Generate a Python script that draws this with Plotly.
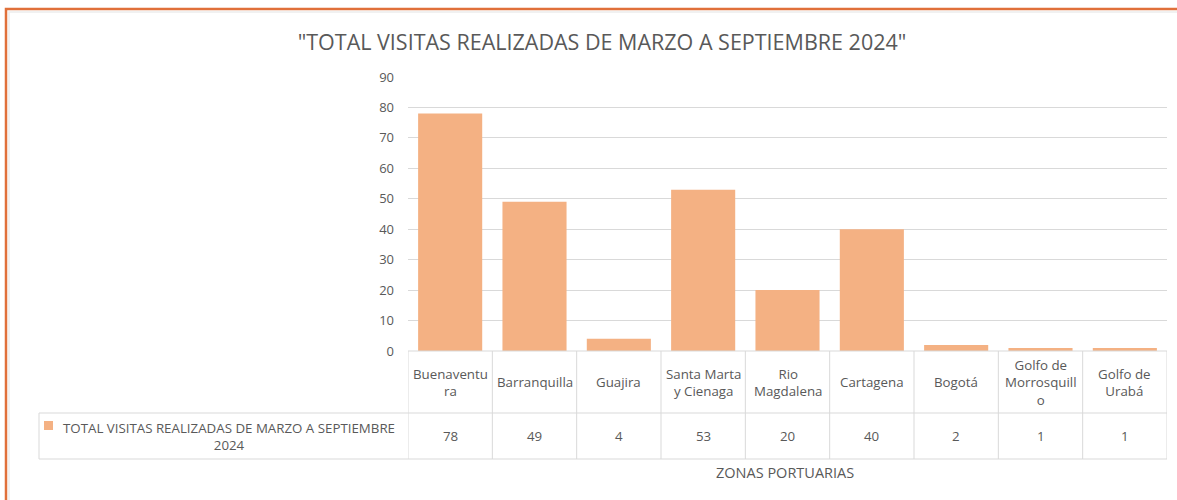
import plotly.graph_objects as go

# datos del grafico
zonas = ["Buenaventura", "Barranquilla", "Guajira", "Santa Marta y Cienaga", "Rio Magdalena",
         "Cartagena", "Bogotá", "Golfo de Morrosquillo", "Golfo de Urabá"]
etiquetas = ["Buenaventu<br>ra", "Barranquilla", "Guajira", "Santa Marta<br>y Cienaga", "Rio<br>Magdalena",
             "Cartagena", "Bogotá", "Golfo de<br>Morrosquill<br>o", "Golfo de<br>Urabá"]
visitas = [78, 49, 4, 53, 20, 40, 2, 1, 1]
serie = "TOTAL VISITAS REALIZADAS DE MARZO A SEPTIEMBRE 2024"
titulo = '"TOTAL VISITAS REALIZADAS DE MARZO A SEPTIEMBRE 2024"'
eje_x = "ZONAS PORTUARIAS"

W, H = 1177, 500
ML, MR, MT, MB = 408, 10, 77, 149
PW, PH = W - ML - MR, H - MT - MB
GRIS = "#D9D9D9"
TXT = "#595959"
FUENTE = "Open Sans"
NARANJA = "#F4B183"
FS = 13.3


def px_x(p):
    return (p - ML) / PW


def px_y(p):
    return (H - MB - p) / PH


fig = go.Figure(go.Bar(x=list(range(len(zonas))), y=visitas, marker_color=NARANJA,
                       marker_line_width=0, name=serie, hovertext=zonas))

shapes = []
annotations = []

# filas de la tabla de datos
y_top, y_mid, y_bot = px_y(351), px_y(413), px_y(459)
for y in (y_mid, y_bot):
    shapes.append(dict(type="line", xref="paper", yref="paper", x0=px_x(39), x1=1, y0=y, y1=y,
                       line=dict(color=GRIS, width=1)))
shapes.append(dict(type="line", xref="paper", yref="paper", x0=0, x1=1, y0=y_top, y1=y_top,
                   line=dict(color=GRIS, width=1)))
shapes.append(dict(type="line", xref="paper", yref="paper", x0=px_x(39), x1=px_x(39), y0=y_mid, y1=y_bot,
                   line=dict(color=GRIS, width=1)))
for i in range(len(zonas) + 1):
    shapes.append(dict(type="line", xref="x", yref="paper", x0=i - 0.5, x1=i - 0.5, y0=y_top, y1=y_bot,
                       line=dict(color=GRIS, width=1)))

for i, (lab, v) in enumerate(zip(etiquetas, visitas)):
    annotations.append(dict(x=i, y=(y_top + y_mid) / 2, xref="x", yref="paper", text=lab,
                            showarrow=False, align="center", xanchor="center", yanchor="middle",
                            font=dict(size=FS, color=TXT, family=FUENTE)))
    annotations.append(dict(x=i, y=(y_mid + y_bot) / 2, xref="x", yref="paper", text=str(v),
                            showarrow=False, xanchor="center", yanchor="middle",
                            font=dict(size=FS, color=TXT, family=FUENTE)))

# leyenda dentro de la tabla
shapes.append(dict(type="rect", xref="paper", yref="paper", x0=px_x(44), x1=px_x(53), y0=px_y(421), y1=px_y(430),
                   fillcolor=NARANJA, line=dict(width=0)))
annotations.append(dict(x=px_x(229), y=(y_mid + y_bot) / 2, xref="paper", yref="paper",
                        text="TOTAL VISITAS REALIZADAS DE MARZO A SEPTIEMBRE<br>2024",
                        showarrow=False, align="center", xanchor="center", yanchor="middle",
                        font=dict(size=FS, color=TXT, family=FUENTE)))

annotations.append(dict(x=px_x(785), y=px_y(472), xref="paper", yref="paper", text=eje_x,
                        showarrow=False, xanchor="center", yanchor="middle",
                        font=dict(size=14.5, color=TXT, family=FUENTE)))

# marco naranja
shapes.append(dict(type="rect", xref="paper", yref="paper", x0=px_x(6), x1=px_x(1190), y0=px_y(520), y1=px_y(9),
                   line=dict(color="#E0703A", width=2.5), layer="above"))
shapes.append(dict(type="rect", xref="paper", yref="paper", x0=px_x(9), x1=px_x(1190), y0=px_y(520), y1=px_y(12),
                   line=dict(color="#EDEDED", width=1.5), layer="above"))

fig.update_layout(
    width=W, height=H,
    margin=dict(l=ML, r=MR, t=MT, b=MB),
    paper_bgcolor="white", plot_bgcolor="white",
    title=dict(text=titulo, xref="container", x=602 / W, xanchor="center", y=1 - 42 / H, yanchor="middle",
               font=dict(size=21.5, color=TXT, family=FUENTE)),
    bargap=0.24,
    showlegend=False,
    shapes=shapes,
    annotations=annotations,
    font=dict(family=FUENTE, color=TXT),
)
fig.update_xaxes(range=[-0.5, len(zonas) - 0.5], showticklabels=False, showgrid=False, zeroline=False,
                 showline=False, ticks="")
fig.update_yaxes(range=[0, 90], dtick=10, gridcolor=GRIS, gridwidth=1, zeroline=False, showline=False,
                 tickfont=dict(size=13, color=TXT, family=FUENTE), ticklabelstandoff=13)

fig.write_html("out.html", config={"displayModeBar": False},
               post_script="document.body.style.margin='0';")
